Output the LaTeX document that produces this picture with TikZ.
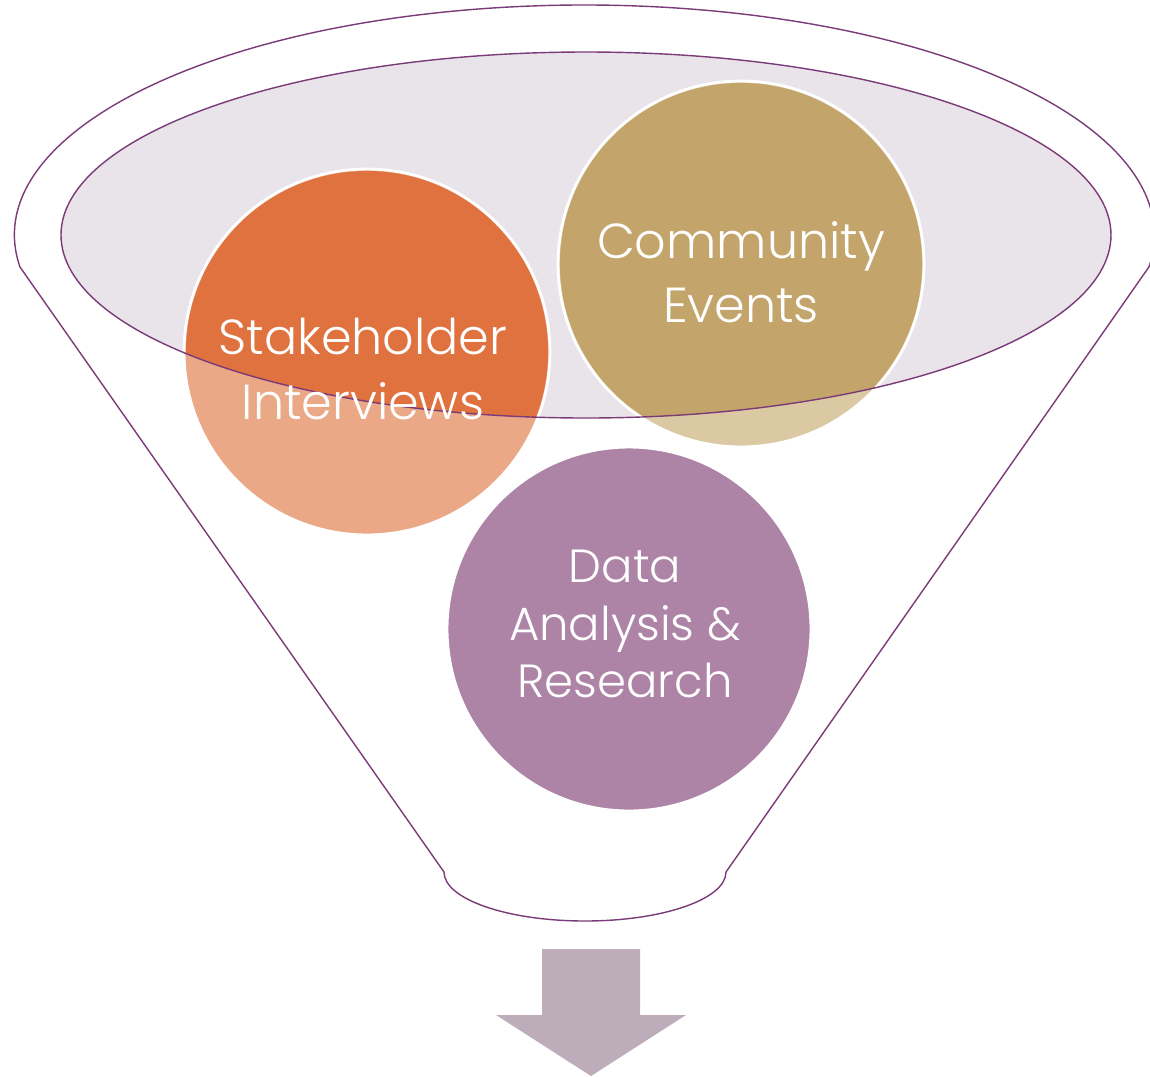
\documentclass[tikz,border=0pt]{standalone}
\usepackage{fontspec}
\newfontfamily\labelfont{Poppins Light}

\definecolor{funnelline}{HTML}{7B3A78}
\definecolor{ellfill}{HTML}{E9E4E9}
\definecolor{orangeD}{HTML}{E07240}
\definecolor{orangeL}{HTML}{EBA887}
\definecolor{goldD}{HTML}{C3A56B}
\definecolor{goldL}{HTML}{DBC9A4}
\definecolor{plum}{HTML}{AD84A6}
\definecolor{arrowfill}{HTML}{BDADBA}

\begin{document}
\begin{tikzpicture}[x=0.02cm,y=-0.02cm]

\tikzset{bubble/.style = {shape=circle,draw=white,line width=1.6pt,inner sep=0pt,minimum size=7.32cm}}
\tikzset{bubbletext/.style = {text=white,align=center,inner sep=0pt,font=\labelfont\fontsize{28}{36.5}\selectfont}}
\tikzset{funnel/.style = {draw=funnelline,line width=0.8pt}}

\useasboundingbox (0,0) rectangle (1150,1076);
%funnel
\draw[funnel] (20,267) arc[start angle=172, end angle=368, x radius=570, y radius=230]
  -- (726,872) arc[start angle=0, end angle=180, x radius=141, y radius=49] -- cycle;
\fill[ellfill] (586,235) ellipse [x radius=525, y radius=183];
%circles
\node[bubble, fill=orangeL] (stake) at (367,352) {};
\node[bubble, fill=goldL] (comm) at (741,264) {};
\node[bubble, fill=plum, minimum size=7.28cm] (data) at (629,629) {};
\begin{scope}
  \clip (586,235) ellipse [x radius=525, y radius=183];
  \fill[orangeD] (stake.center) circle [radius=181];
  \fill[goldD] (comm.center) circle [radius=181];
\end{scope}
\draw[funnel] (586,235) ellipse [x radius=525, y radius=183];
%labels
\node[bubbletext] (stakeT) at (363,369) {Stakeholder\\Interviews};
\node[bubbletext] (commT) at (741,272) {Community\\Events};
\node[bubbletext, font=\labelfont\fontsize{26.5}{32.5}\selectfont] (dataT) at (625,624) {Data\\Analysis \&\\Research};
%arrow
\fill[arrowfill] (542,949) -- (640,949) -- (640,1015) -- (686,1015) -- (591,1076)
  -- (496,1015) -- (542,1015) -- cycle;

\end{tikzpicture}
\end{document}
